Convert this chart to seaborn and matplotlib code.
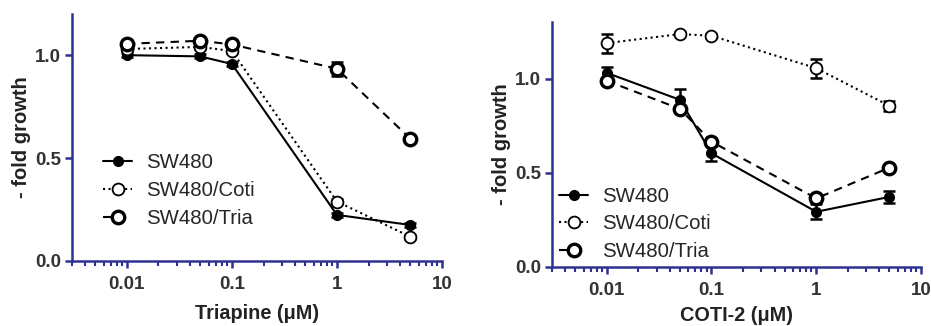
import numpy as np
import pandas as pd
import matplotlib
matplotlib.use("Agg")
import matplotlib.pyplot as plt
import seaborn as sns
from matplotlib.ticker import LogLocator, FixedLocator, NullFormatter

sns.set_style("ticks")
plt.rcParams["font.family"] = ["Liberation Sans", "DejaVu Sans"]

# concentrations (uM)
conc = [0.01, 0.05, 0.1, 1, 5]
lines = ["SW480", "SW480/Coti", "SW480/Tria"]

# Triapine panel
tri_sw480 = [1.00, 0.994, 0.957, 0.224, 0.175]
tri_coti = [1.03, 1.04, 1.02, 0.289, 0.118]
tri_tria = [1.055, 1.07, 1.052, 0.934, 0.594]
tri_sw480_err = [0.01, 0.01, 0.01, 0.01, 0.012]
tri_coti_err = [0.01, 0.01, 0.01, 0.01, 0.01]
tri_tria_err = [0.01, 0.01, 0.01, 0.035, 0.01]

# COTI-2 panel
cot_sw480 = [1.03, 0.887, 0.603, 0.293, 0.372]
cot_coti = [1.188, 1.236, 1.227, 1.055, 0.855]
cot_tria = [0.988, 0.839, 0.665, 0.364, 0.527]
cot_sw480_err = [0.03, 0.06, 0.04, 0.04, 0.03]
cot_coti_err = [0.05, 0.01, 0.01, 0.05, 0.025]
cot_tria_err = [0.01, 0.01, 0.01, 0.02, 0.01]

navy = "#2E3192"
styles = {
    "SW480": dict(linestyle="-", marker="o", markersize=7, markerfacecolor="black",
                  markeredgecolor="black", markeredgewidth=1),
    "SW480/Coti": dict(linestyle=":", marker="o", markersize=8.5, markerfacecolor="white",
                       markeredgecolor="black", markeredgewidth=1.3),
    "SW480/Tria": dict(linestyle=(0, (4, 3)), marker="o", markersize=9, markerfacecolor="white",
                       markeredgecolor="black", markeredgewidth=2.4),
}


def draw(ax, vals, errs, ylim, yticks, xlabel, leg_anchor, xlabelpad):
    for name, y, e in zip(lines, vals, errs):
        ax.errorbar(conc, y, yerr=e, fmt="none", ecolor="black", elinewidth=1.8,
                    capsize=4, capthick=1.8, zorder=2)
        df = pd.DataFrame({"conc": conc, "val": y})
        sns.lineplot(data=df, x="conc", y="val", ax=ax, color="black", linewidth=1.5,
                     label=name, zorder=3, **styles[name])
    ax.set_xscale("log")
    ax.set_xlim(0.003, 10)
    ax.set_ylim(*ylim)
    ax.set_yticks(yticks)
    ax.set_yticklabels([f"{t:.1f}" for t in yticks])
    ax.xaxis.set_major_locator(FixedLocator([0.01, 0.1, 1, 10]))
    ax.set_xticklabels(["0.01", "0.1", "1", "10"])
    ax.xaxis.set_minor_locator(LogLocator(base=10, subs=np.arange(2, 10)))
    ax.xaxis.set_minor_formatter(NullFormatter())
    for side in ["top", "right"]:
        ax.spines[side].set_visible(False)
    for side in ["left", "bottom"]:
        ax.spines[side].set_color(navy)
        ax.spines[side].set_linewidth(1.8)
    ax.tick_params(axis="both", which="major", length=5, width=1.8, color=navy,
                   labelsize=13.5, labelcolor="#333333", pad=3)
    ax.tick_params(axis="x", which="major", pad=6)
    ax.tick_params(axis="x", which="minor", length=3.5, width=1.5, color=navy)
    for lbl in ax.get_xticklabels() + ax.get_yticklabels():
        lbl.set_fontweight("bold")
    ax.set_xlabel(xlabel, fontsize=14.3, fontweight="bold", color="#222222", labelpad=xlabelpad)
    ax.set_ylabel("- fold growth", fontsize=14.5, fontweight="bold", color="#222222", labelpad=3)
    ax.legend(loc="lower left", bbox_to_anchor=leg_anchor, frameon=False, fontsize=14.7,
              handlelength=1.4, handletextpad=0.7, labelspacing=0.42, borderpad=0,
              borderaxespad=0)


fig = plt.figure(figsize=(9.31, 3.26), dpi=100)
ax1 = fig.add_axes([0.0773, 0.1994, 0.3974, 0.7577])
ax2 = fig.add_axes([0.5929, 0.181, 0.3963, 0.7515])

draw(ax1, [tri_sw480, tri_coti, tri_tria], [tri_sw480_err, tri_coti_err, tri_tria_err],
     (0, 1.2), [0.0, 0.5, 1.0], "Triapine (μM)", (0.085, 0.135), 8)
draw(ax2, [cot_sw480, cot_coti, cot_tria], [cot_sw480_err, cot_coti_err, cot_tria_err],
     (0, 1.3), [0.0, 0.5, 1.0], "COTI-2 (μM)", (0.02, 0.025), 5)

fig.savefig("out.png", dpi=100)
